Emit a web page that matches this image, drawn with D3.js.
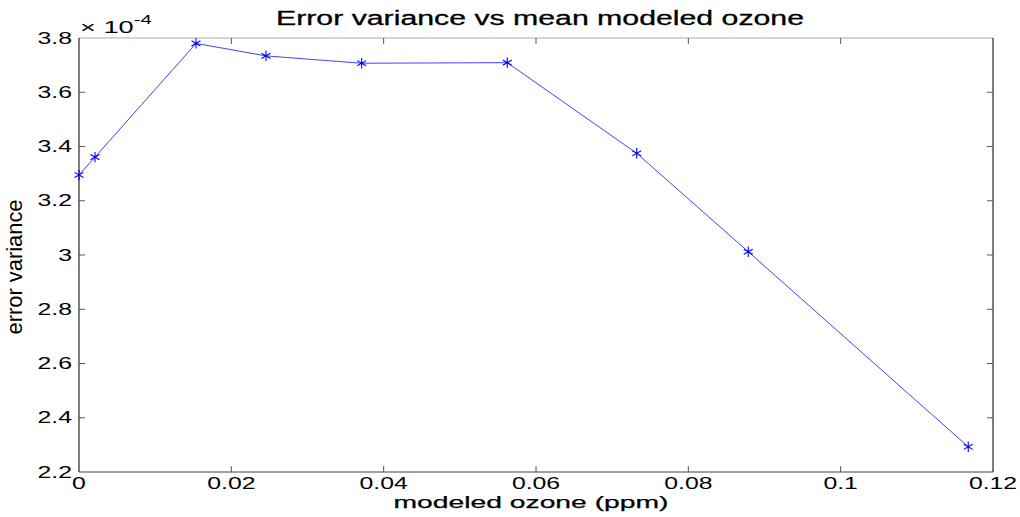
<!DOCTYPE html>
<html>
<head>
<meta charset="utf-8">
<script src="https://cdn.jsdelivr.net/npm/d3@7"></script>
<style>
  body { margin: 0; background: #fff; }
  text { font-family: "Liberation Sans", Arial, sans-serif; fill: #000; }
</style>
</head>
<body>
<svg id="chart" width="1020" height="517"></svg>
<script>
// modeled ozone (ppm) and error variance (x 1e-4)
const ozone = [0, 0.0021, 0.01536, 0.02455, 0.03711, 0.05623, 0.07322, 0.08787, 0.11675]
const errVar = [3.295, 3.361, 3.780, 3.734, 3.707, 3.709, 3.375, 3.012, 2.293]
const xTicks = [0, 0.02, 0.04, 0.06, 0.08, 0.1, 0.12]
const yTicks = [2.2, 2.4, 2.6, 2.8, 3, 3.2, 3.4, 3.6, 3.8]

const svg = d3.select("#chart"),
    margin = { top: 38, right: 27, bottom: 45, left: 79 },
    width = 1020 - margin.left - margin.right,
    height = 517 - margin.top - margin.bottom;

const g = svg.append("g").attr("transform", `translate(${margin.left},${margin.top})`)

const x = d3.scaleLinear().domain([0, 0.12]).range([0, width])
const y = d3.scaleLinear().domain([2.2, 3.8]).range([height, 0])

const fmt = d => String(+d.toFixed(2))
const SX = 1.55  // the original fonts are drawn wide

// box
g.append("line").attr("x1", 0).attr("x2", width).attr("y1", 0).attr("y2", 0).attr("stroke", "#aaa")
g.append("line").attr("x1", 0).attr("x2", width).attr("y1", height).attr("y2", height).attr("stroke", "#444")
g.append("line").attr("x1", 0).attr("x2", 0).attr("y1", 0).attr("y2", height).attr("stroke", "#000")
g.append("line").attr("x1", width).attr("x2", width).attr("y1", 0).attr("y2", height).attr("stroke", "#000")

// inward ticks on all sides
xTicks.slice(1, -1).forEach(t => {
  g.append("line").attr("x1", x(t)).attr("x2", x(t)).attr("y1", height).attr("y2", height - 6).attr("stroke", "#555")
  g.append("line").attr("x1", x(t)).attr("x2", x(t)).attr("y1", 0).attr("y2", 6).attr("stroke", "#555")
})
yTicks.slice(1, -1).forEach(t => {
  g.append("line").attr("x1", 0).attr("x2", 6).attr("y1", y(t)).attr("y2", y(t)).attr("stroke", "#555")
  g.append("line").attr("x1", width).attr("x2", width - 6).attr("y1", y(t)).attr("y2", y(t)).attr("stroke", "#555")
})

// tick labels
g.selectAll(".xl").data(xTicks).enter().append("text")
    .attr("transform", d => `translate(${x(d)},${height + 17}) scale(${SX},1)`)
    .attr("text-anchor", "middle").style("font-size", "16px")
    .text(fmt)
g.selectAll(".yl").data(yTicks).enter().append("text")
    .attr("transform", d => `translate(-7,${y(d) + 5.5}) scale(${SX},1)`)
    .attr("text-anchor", "end").style("font-size", "16px")
    .text(fmt)

// exponent
const ex = g.append("text").attr("transform", `translate(1,-5) scale(1.7,1)`).style("font-size", "16px")
ex.append("tspan").text("\u00d7 10")
ex.append("tspan").attr("dy", -9).style("font-size", "12px").text("-4")

// line and markers
const line = d3.line().x((d, i) => x(ozone[i])).y(d => y(d))
g.append("path").datum(errVar).attr("d", line)
    .attr("fill", "none").attr("stroke", "#2b2bff").attr("stroke-width", 0.9)

const star = d3.symbol().type(d3.symbolAsterisk).size(75)
g.selectAll(".pt").data(errVar).enter().append("path")
    .attr("d", star)
    .attr("transform", (d, i) => `translate(${x(ozone[i])},${y(d)})`)
    .attr("fill", "none").attr("stroke", "#0000ff").attr("stroke-width", 1.1)

// titles
svg.append("text").attr("x", 540).attr("y", 25)
    .attr("text-anchor", "middle").style("font-size", "20px")
    .attr("textLength", 528).attr("lengthAdjust", "spacingAndGlyphs")
    .style("stroke", "#000").style("stroke-width", 0.3)
    .text("Error variance vs mean modeled ozone")
svg.append("text").attr("x", 531).attr("y", 508)
    .attr("text-anchor", "middle").style("font-size", "17px")
    .attr("textLength", 275).attr("lengthAdjust", "spacingAndGlyphs")
    .style("stroke", "#000").style("stroke-width", 0.25)
    .text("modeled ozone (ppm)")
svg.append("text").attr("transform", "translate(22,267) rotate(-90)")
    .attr("text-anchor", "middle").style("font-size", "22px")
    .attr("textLength", 135).attr("lengthAdjust", "spacingAndGlyphs")
    .text("error variance")
</script>
</body>
</html>
